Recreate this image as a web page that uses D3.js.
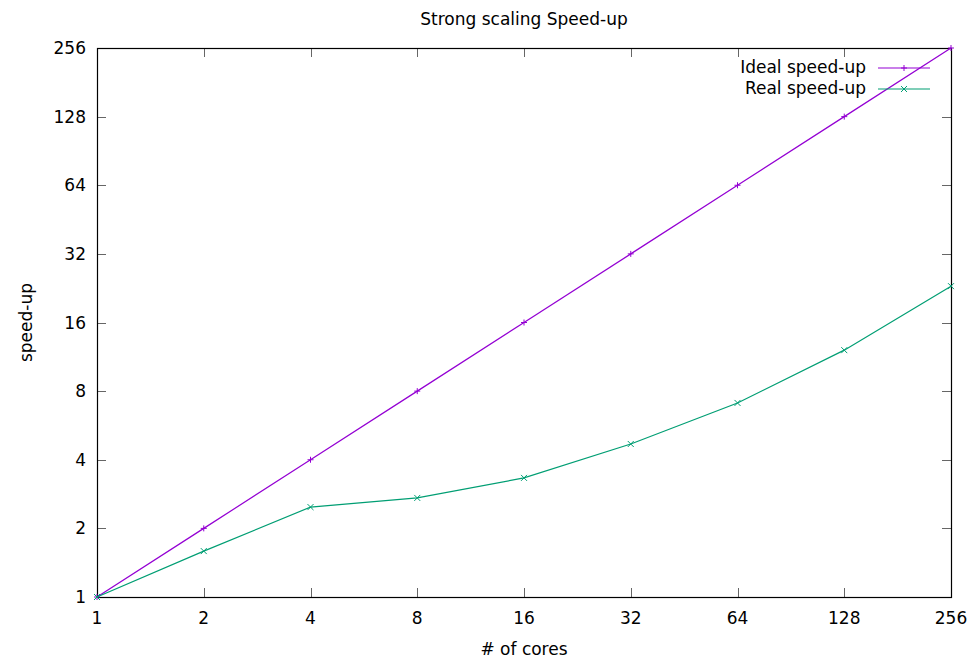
<html lang="en">
<head>
<meta charset="utf-8">
<script src="https://d3js.org/d3.v7.min.js"></script>
<style>
  body { margin: 0; background: #fff; }
  text { font-family: "DejaVu Sans", sans-serif; fill: #000; }
  .tick-label { font-size: 17px; }
  .title { font-size: 17px; text-anchor: middle; }
  .axis-title { font-size: 17px; text-anchor: middle; }
  .legend-text { font-size: 17px; text-anchor: end; }
</style>
</head>
<body>
<script>
// data
var cores = [1, 2, 4, 8, 16, 32, 64, 128, 256];
var idealSpeedup = [1, 2, 4, 8, 16, 32, 64, 128, 256];
var realSpeedup = [1, 1.59, 2.48, 2.72, 3.33, 4.69, 7.1, 12.1, 23.1];
var yTicks = [1, 2, 4, 8, 16, 32, 64, 128, 256];
var seriesNames = ["Ideal speed-up", "Real speed-up"];

var width = 979, height = 660;
var margin = {top: 48, right: 28, bottom: 63, left: 97};

var svg = d3.select("body").append("svg")
  .attr("width", width)
  .attr("height", height);

var x = d3.scaleLog().base(2).domain([1, 256]).range([margin.left, width - margin.right]);
var y = d3.scaleLog().base(2).domain([1, 256]).range([height - margin.bottom, margin.top]);

var x0 = x.range()[0], x1 = x.range()[1];
var y0 = y.range()[0], y1 = y.range()[1];
var tickLen = 9;

// ticks (inward, mirrored)
var ticks = svg.append("g").attr("stroke", "#666").attr("stroke-width", 1);
cores.forEach(function(c) {
  var px = Math.round(x(c)) + 0.5;
  ticks.append("line").attr("x1", px).attr("x2", px).attr("y1", y0).attr("y2", y0 - tickLen);
  ticks.append("line").attr("x1", px).attr("x2", px).attr("y1", y1).attr("y2", y1 + tickLen);
});
yTicks.forEach(function(v) {
  var py = Math.round(y(v)) + 0.5;
  ticks.append("line").attr("x1", x0).attr("x2", x0 + tickLen).attr("y1", py).attr("y2", py);
  ticks.append("line").attr("x1", x1).attr("x2", x1 - tickLen).attr("y1", py).attr("y2", py);
});

// tick labels
svg.append("g").selectAll("text").data(cores).enter().append("text")
  .attr("class", "tick-label")
  .attr("x", function(d) { return x(d); })
  .attr("y", y0 + 27)
  .attr("text-anchor", "middle")
  .text(String);

svg.append("g").selectAll("text").data(yTicks).enter().append("text")
  .attr("class", "tick-label")
  .attr("x", x0 - 11)
  .attr("y", function(d) { return y(d) + 6; })
  .attr("text-anchor", "end")
  .text(String);

// border
svg.append("rect")
  .attr("x", x0 + 0.5).attr("y", y1 + 0.5)
  .attr("width", x1 - x0).attr("height", y0 - y1)
  .attr("fill", "none").attr("stroke", "#000").attr("stroke-width", 1.2);

// titles
svg.append("text").attr("class", "title").attr("x", (x0 + x1) / 2).attr("y", 25).text("Strong scaling Speed-up");
svg.append("text").attr("class", "axis-title").attr("x", (x0 + x1) / 2).attr("y", 655).text("# of cores");
svg.append("text").attr("class", "axis-title")
  .attr("transform", "translate(32," + ((y0 + y1) / 2) + ") rotate(-90)")
  .text("speed-up");

var colors = ["#9400d3", "#009e73"];
var line = d3.line()
  .x(function(d) { return x(d[0]); })
  .y(function(d) { return y(d[1]); });

function plusMark(g, px, py, col) {
  g.append("path").attr("d", "M" + (px - 3) + "," + py + "H" + (px + 3) + "M" + px + "," + (py - 3) + "V" + (py + 3))
    .attr("stroke", col).attr("stroke-width", 1).attr("fill", "none");
}
function crossMark(g, px, py, col) {
  g.append("path").attr("d", "M" + (px - 3) + "," + (py - 3) + "L" + (px + 3) + "," + (py + 3) + "M" + (px - 3) + "," + (py + 3) + "L" + (px + 3) + "," + (py - 3))
    .attr("stroke", col).attr("stroke-width", 1).attr("fill", "none");
}

var allSeries = [idealSpeedup, realSpeedup];
var markers = [plusMark, crossMark];

allSeries.forEach(function(vals, i) {
  var pts = cores.map(function(c, j) { return [c, vals[j]]; });
  var g = svg.append("g");
  g.append("path").datum(pts).attr("d", line)
    .attr("fill", "none").attr("stroke", colors[i]).attr("stroke-width", 1.2);
  pts.forEach(function(p) { markers[i](g, x(p[0]), y(p[1]), colors[i]); });

  // legend
  var ly = 68 + i * 21;
  svg.append("text").attr("class", "legend-text").attr("x", 866).attr("y", ly + 5).text(seriesNames[i]);
  g.append("line").attr("x1", 878).attr("x2", 930).attr("y1", ly).attr("y2", ly)
    .attr("stroke", colors[i]).attr("stroke-width", 1.2);
  markers[i](g, 904, ly, colors[i]);
});
</script>
</body>
</html>
